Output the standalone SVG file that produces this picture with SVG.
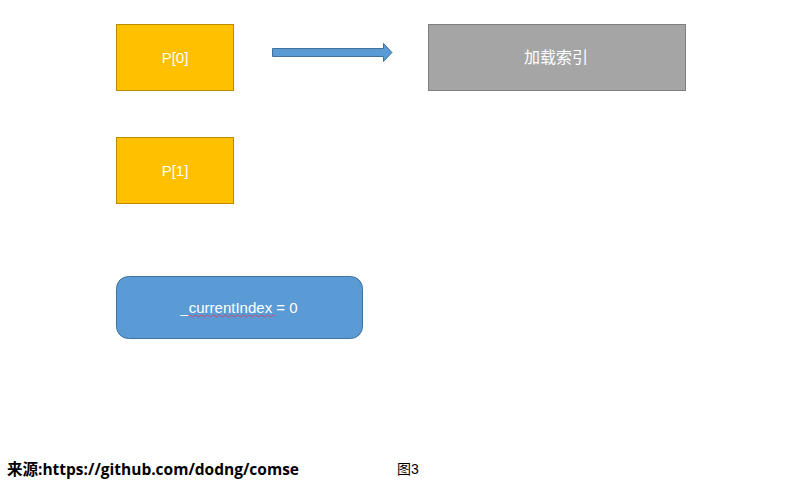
<svg xmlns="http://www.w3.org/2000/svg" width="792" height="485" viewBox="0 0 792 485">
<style>
.box{fill:#ffc000;stroke:#bc8c00;stroke-width:1}
.lbl{font-family:"Liberation Sans","Noto Sans CJK SC",sans-serif;font-size:15px;fill:#ffffff;text-anchor:middle;dominant-baseline:central}
.foot{font-family:"Open Sans","Noto Sans CJK SC",sans-serif;font-size:15.5px;fill:#000}
</style>
<rect width="792" height="485" fill="#ffffff"/>
<g id="p0">
<rect class="box" x="116.5" y="24.5" width="117" height="66"/>
<text class="lbl" x="175" y="57">P[0]</text>
</g>
<g id="p1">
<rect class="box" x="116.5" y="137.5" width="117" height="66"/>
<text class="lbl" x="175" y="170">P[1]</text>
</g>
<g id="load">
<rect x="428.5" y="24.5" width="257" height="66" fill="#a5a5a5" stroke="#7f7f7f"/>
<text class="lbl" x="556" y="57" style="font-size:16px">加载索引</text>
</g>
<g id="idx">
<rect x="116.5" y="276.5" width="246" height="62" rx="12" fill="#5b9bd5" stroke="#41719c"/>
<text class="lbl" x="239" y="307">_currentIndex = 0</text>
<path d="M188 316 q1.5 -2 3 0 t3 0 t3 0 t3 0 t3 0 t3 0 t3 0 t3 0 t3 0 t3 0 t3 0 t3 0 t3 0 t3 0 t3 0 t3 0 t3 0 t3 0 t3 0 t3 0 t3 0 t3 0 t3 0 t3 0 t3 0 t3 0 t3 0 t3 0 t3 0" fill="none" stroke="#e03a5a" stroke-width="0.8"/>
</g>
<g id="connectors">
<path d="M272.5 48.5 H383.5 V43.5 L392 52.5 L383.5 61.5 V56.5 H272.5 Z" fill="#5b9bd5" stroke="#41719c" stroke-width="1"/>
</g>
<text class="foot" x="7" y="475" font-weight="bold">来源:https://github.com/dodng/comse</text>
<text class="foot" x="397" y="474" style="font-family:'Liberation Sans','Noto Sans CJK SC',sans-serif;font-size:14px">图3</text>
</svg>
